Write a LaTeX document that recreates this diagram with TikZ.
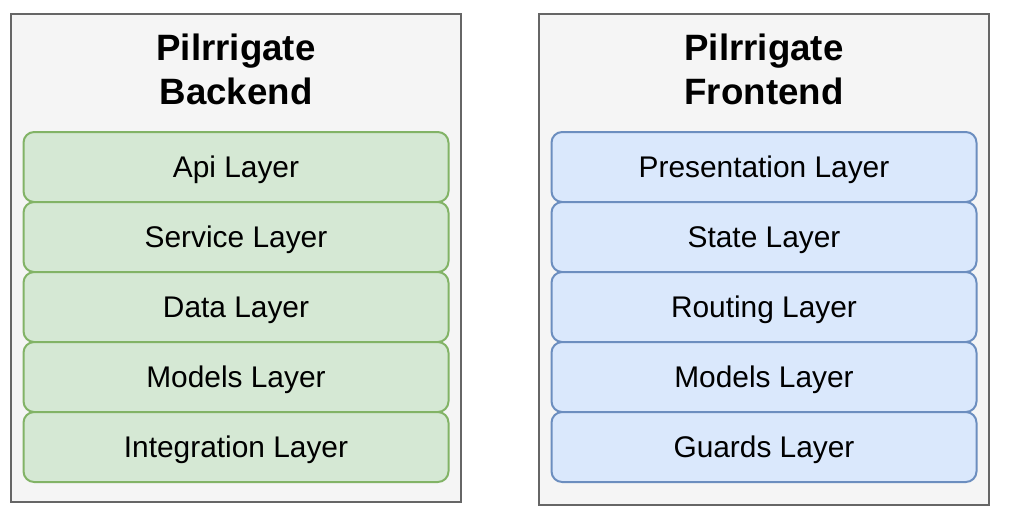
\documentclass[tikz,border=0pt]{standalone}
\usepackage{fontspec}
\setmainfont{Liberation Sans}
\usetikzlibrary{positioning}

\definecolor{boxfill}{HTML}{F5F5F5}
\definecolor{boxline}{HTML}{666666}
\definecolor{greenfill}{HTML}{D5E8D4}
\definecolor{greenline}{HTML}{82B366}
\definecolor{bluefill}{HTML}{DAE8FC}
\definecolor{blueline}{HTML}{6C8EBF}

\begin{document}
\begin{tikzpicture}
    [x=0.75pt,y=-0.75pt,
    container/.style={rectangle,draw=boxline,fill=boxfill,line width=1.5pt,
      inner sep=0pt,minimum width=337.5pt},
    heading/.style={align=center,font=\fontsize{27.5}{33}\selectfont\bfseries},
    backlayer/.style={rectangle,rounded corners=8pt,draw=greenline,fill=greenfill,
      line width=1.5pt,inner sep=0pt,minimum width=318.75pt,minimum height=52.5pt,
      text depth=0pt,font=\fontsize{22.4}{26}\selectfont},
    frontlayer/.style={backlayer,draw=blueline,fill=bluefill}]

    \useasboundingbox (0,0) rectangle (1013,522);

    \node[container,minimum height=366pt]    (backend)  at (236,258)   {};
    \node[container,minimum height=368.25pt] (frontend) at (764,259.5) {};

    \node[heading] (backend title)  at (236,69) {Pilrrigate\\Backend};
    \node[heading] (frontend title) at (764,69) {Pilrrigate\\Frontend};

    \node[backlayer] (api)          at (236,167) {Api Layer};
    \node[backlayer] (service)      at (236,237) {Service Layer};
    \node[backlayer] (data)         at (236,307) {Data Layer};
    \node[backlayer] (back models)  at (236,377) {Models Layer};
    \node[backlayer] (integration)  at (236,447) {Integration Layer};

    \node[frontlayer] (presentation) at (764,167) {Presentation Layer};
    \node[frontlayer] (state)        at (764,237) {State Layer};
    \node[frontlayer] (routing)      at (764,307) {Routing Layer};
    \node[frontlayer] (front models) at (764,377) {Models Layer};
    \node[frontlayer] (guards)       at (764,447) {Guards Layer};

  \end{tikzpicture}
\end{document}
